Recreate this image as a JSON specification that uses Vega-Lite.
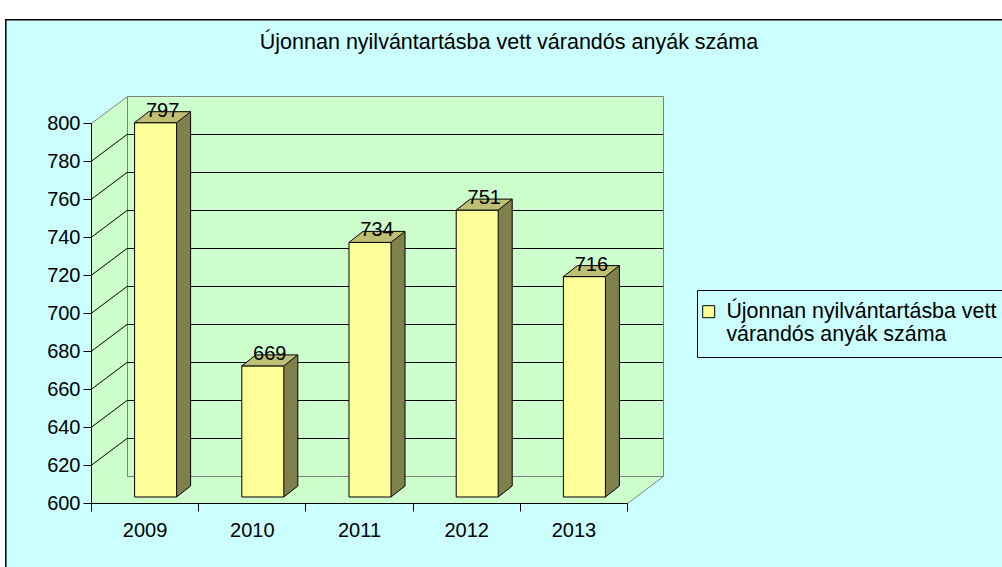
{
  "$schema": "https://vega.github.io/schema/vega-lite/v6.json",
  "width": 536,
  "height": 380,
  "autosize": {"type": "none"},
  "padding": {"left": 127, "top": 96, "right": 339, "bottom": 91},
  "background": "#CCFFFF",
  "view": {"fill": "#CCFFCC", "stroke": "#808080", "strokeWidth": 1},
  "title": {
    "text": "Újonnan nyilvántartásba vett várandós anyák száma",
    "fontSize": 21.5,
    "fontWeight": "normal",
    "color": "black",
    "font": "Liberation Sans",
    "anchor": "middle",
    "frame": "group",
    "dx": 114,
    "dy": 70
  },
  "datasets": {
    "counts": [
      {"year": "2009", "value": 797, "series": "Újonnan nyilvántartásba vett várandós anyák száma"},
      {"year": "2010", "value": 669, "series": "Újonnan nyilvántartásba vett várandós anyák száma"},
      {"year": "2011", "value": 734, "series": "Újonnan nyilvántartásba vett várandós anyák száma"},
      {"year": "2012", "value": 751, "series": "Újonnan nyilvántartásba vett várandós anyák száma"},
      {"year": "2013", "value": 716, "series": "Újonnan nyilvántartásba vett várandós anyák száma"}
    ],
    "grid": [
      {"v": 620}, {"v": 640}, {"v": 660}, {"v": 680}, {"v": 700},
      {"v": 720}, {"v": 740}, {"v": 760}, {"v": 780}
    ],
    "anchor": [{"part": "plot"}]
  },
  "data": {"name": "counts"},
  "layer": [
    {
      "data": {"name": "anchor"},
      "mark": {"type": "point", "shape": "M-1.375,-4.865L8.925,-4.865L8.925,-4.567L-1.217,-4.567L-1.217,1.035L-1.375,1.035Z", "size": 40000, "filled": true, "fill": "white", "stroke": "black", "strokeWidth": 1.5, "opacity": 1, "xOffset": -53.1, "yOffset": 0.5},
      "encoding": {
        "x": {"datum": "2009", "type": "nominal"},
        "y": {"datum": 600, "type": "quantitative", "scale": {"domain": [600, 800], "nice": false, "zero": false}}
      }
    },
    {
      "data": {"name": "anchor"},
      "mark": {"type": "point", "shape": "M0,-3.8L-0.36,-3.53L-0.36,0.27L5,0.27L5.36,0L0,0Z", "size": 40000, "filled": true, "fill": "#CCFFCC", "stroke": "#808080", "strokeWidth": 1, "opacity": 1, "xOffset": -53.1, "yOffset": 0.5},
      "encoding": {
        "x": {"datum": "2009", "type": "nominal"},
        "y": {"datum": 600, "type": "quantitative", "scale": {"domain": [600, 800], "nice": false, "zero": false}}
      }
    },
    {
      "data": {"name": "grid"},
      "mark": {"type": "rule", "color": "black", "strokeWidth": 1, "yOffset": 0.5},
      "encoding": {
        "y": {"field": "v", "type": "quantitative", "title": null, "scale": {"domain": [600, 800], "nice": false, "zero": false}}
      }
    },
    {
      "data": {"name": "grid"},
      "mark": {"type": "rule", "color": "black", "strokeWidth": 1, "xOffset": -89.6, "x2Offset": -53.6, "yOffset": 27.5, "y2Offset": 0.5},
      "encoding": {
        "x": {"datum": "2009", "type": "nominal"},
        "x2": {"datum": "2009"},
        "y": {"field": "v", "type": "quantitative", "title": null, "scale": {"domain": [600, 800], "nice": false, "zero": false}},
        "y2": {"field": "v"}
      }
    },
    {
      "mark": {"type": "bar", "width": 14, "xOffset": 3, "yOffset": 10, "y2Offset": 10, "fill": "#80804D"},
      "encoding": {
        "x": {"field": "year", "type": "nominal", "title": null},
        "y": {"field": "value", "type": "quantitative", "title": null, "scale": {"domain": [600, 800], "nice": false, "zero": false}},
        "y2": {"datum": 600}
      }
    },
    {
      "mark": {"type": "point", "shape": "M0,0L0.14,-0.11L0,-0.11Z", "size": 40000, "filled": true, "fill": "#80804D", "strokeWidth": 0, "opacity": 1, "xOffset": -4, "yOffset": 21},
      "encoding": {
        "x": {"field": "year", "type": "nominal", "title": null},
        "y": {"datum": 600, "type": "quantitative", "scale": {"domain": [600, 800], "nice": false, "zero": false}}
      }
    },
    {
      "mark": {"type": "rule", "color": "black", "strokeWidth": 1, "xOffset": 10, "yOffset": 10, "y2Offset": 10},
      "encoding": {
        "x": {"field": "year", "type": "nominal", "title": null},
        "y": {"field": "value", "type": "quantitative", "title": null, "scale": {"domain": [600, 800], "nice": false, "zero": false}},
        "y2": {"datum": 600}
      }
    },
    {
      "mark": {"type": "point", "shape": "M0,0L0.14,-0.11", "size": 40000, "filled": false, "stroke": "black", "strokeWidth": 1, "opacity": 1, "xOffset": -4, "yOffset": 21},
      "encoding": {
        "x": {"field": "year", "type": "nominal", "title": null},
        "y": {"datum": 600, "type": "quantitative", "scale": {"domain": [600, 800], "nice": false, "zero": false}}
      }
    },
    {
      "mark": {"type": "bar", "width": 42, "xOffset": -25, "yOffset": 21, "y2Offset": 21, "stroke": "black", "strokeWidth": 1},
      "encoding": {
        "x": {
          "field": "year", "type": "nominal", "title": null,
          "scale": {"paddingInner": 0, "paddingOuter": 0},
          "axis": {"title": null, "labelAngle": 0, "labelAlign": "center", "labelBaseline": "top", "offset": 0, "position": -63, "translate": 27.5, "tickBand": "extent", "tickSize": 8, "labelPadding": 9, "labelFontSize": 20, "labelFont": "Liberation Sans", "labelColor": "black", "domainColor": "black", "tickColor": "black", "grid": false, "zindex": 1}
        },
        "y": {
          "field": "value", "type": "quantitative", "title": null,
          "scale": {"domain": [600, 800], "nice": false, "zero": false},
          "axis": {"title": null, "offset": 63, "position": 0, "translate": 27.5, "tickCount": 10, "tickSize": 8, "labelPadding": 3, "labelFontSize": 20, "labelFont": "Liberation Sans", "labelColor": "black", "domainColor": "black", "tickColor": "black", "grid": false, "zindex": 1}
        },
        "y2": {"datum": 600},
        "color": {
          "field": "series", "type": "nominal",
          "scale": {"range": ["#FFFF99"]},
          "legend": {
            "orient": "none", "legendX": 570, "legendY": 194, "title": null,
            "labelExpr": "['Újonnan nyilvántartásba vett', 'várandós anyák száma']",
            "labelFontSize": 21.4, "labelFont": "Liberation Sans", "labelColor": "black",
            "labelLimit": 600, "labelLineHeight": 25, "labelOffset": 7, "symbolOffset": -10,
            "symbolType": "square", "symbolSize": 144, "symbolStrokeColor": "black", "symbolStrokeWidth": 1, "symbolOpacity": 1,
            "strokeColor": "black", "fillColor": "#CCFFFF", "padding": 11
          }
        }
      }
    },
    {
      "mark": {"type": "point", "shape": "M0,0L0.42,0L0.56,-0.11L0.14,-0.11Z", "size": 40000, "filled": true, "fill": "#BFBF73", "stroke": "black", "strokeWidth": 1, "opacity": 1, "xOffset": -46, "yOffset": 21},
      "encoding": {
        "x": {"field": "year", "type": "nominal", "title": null},
        "y": {"field": "value", "type": "quantitative", "title": null, "scale": {"domain": [600, 800], "nice": false, "zero": false}}
      }
    },
    {
      "mark": {"type": "text", "fontSize": 20, "font": "Liberation Sans", "color": "black", "align": "center", "baseline": "alphabetic", "dx": -18, "dy": 15},
      "encoding": {
        "x": {"field": "year", "type": "nominal", "title": null},
        "y": {"field": "value", "type": "quantitative", "title": null, "scale": {"domain": [600, 800], "nice": false, "zero": false}},
        "text": {"field": "value", "type": "quantitative"}
      }
    }
  ],
  "config": {
    "font": "Liberation Sans"
  }
}
